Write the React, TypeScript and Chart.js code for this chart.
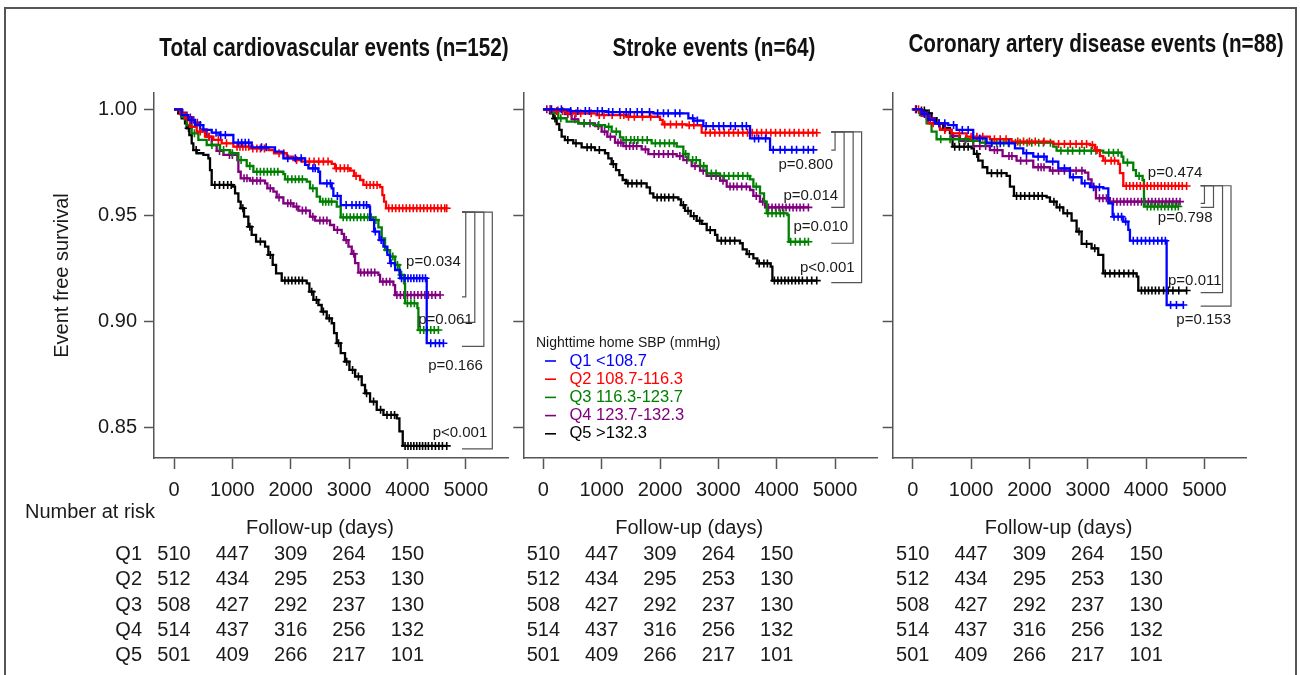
import React, { useEffect, useRef } from "react";
import { Chart, registerables } from "chart.js";
Chart.register(...registerables);

const FONT = '"Liberation Sans", Arial, sans-serif';
const TEXT = "#1a1a1a";
const AXIS = "#555555";

// ---------- categories / labels ----------
const groupLabels = ["Q1 <108.7", "Q2 108.7-116.3", "Q3 116.3-123.7", "Q4 123.7-132.3", "Q5 >132.3"];
const groupColors = ["#0000ff", "#ff0000", "#008000", "#800080", "#000000"];
const riskNames = ["Q1", "Q2", "Q3", "Q4", "Q5"];
const panelTitles = [
  "Total cardiovascular events (n=152)",
  "Stroke events (n=64)",
  "Coronary artery disease events (n=88)",
];
const xTicks = [0, 1000, 2000, 3000, 4000, 5000];
const yTicks = [0.85, 0.9, 0.95, 1.0];
const legendTitle = "Nighttime home SBP (mmHg)";
const yTitle = "Event free survival";
const xTitle = "Follow-up (days)";
const riskTitle = "Number at risk";

// ---------- number at risk ----------
const riskTimes = [0, 1000, 2000, 3000, 4000];
const riskQ1 = [510, 447, 309, 264, 150];
const riskQ2 = [512, 434, 295, 253, 130];
const riskQ3 = [508, 427, 292, 237, 130];
const riskQ4 = [514, 437, 316, 256, 132];
const riskQ5 = [501, 409, 266, 217, 101];

// ---------- Panel 1: total cardiovascular events ----------
const cvStepsQ1 = [[131,.9973],[246,.9950],[360,.9926],[503,.9903],[646,.9890],[789,.9879],[1017,.9843],[1331,.9821],[1731,.9801],[1874,.9769],[2246,.9738],[2303,.9722],[2474,.9706],[2503,.9651],[2703,.9628],[2731,.9592],[2857,.9549],[3331,.9542],[3360,.9479],[3429,.9424],[3520,.9384],[3589,.9353],[3657,.9314],[3703,.9275],[3789,.9243],[3874,.9204],[4331,.8898]];
const cvStepsQ2 = [[103,.9978],[189,.9958],[274,.9918],[389,.9895],[531,.9871],[674,.9856],[817,.9840],[1017,.9824],[1303,.9816],[1617,.9808],[1714,.9793],[1931,.9777],[2046,.9761],[2189,.9754],[2703,.9743],[2760,.9722],[3017,.9711],[3086,.9686],[3189,.9667],[3246,.9644],[3531,.9633],[3571,.9596],[3600,.9565],[3634,.9534]];
const cvStepsQ3 = [[131,.9965],[217,.9926],[303,.9887],[417,.9856],[560,.9832],[789,.9808],[960,.9793],[1103,.9761],[1246,.9733],[1360,.9706],[1874,.9695],[1903,.9670],[2274,.9659],[2331,.9628],[2446,.9589],[2503,.9565],[2789,.9542],[2857,.9491],[3417,.9479],[3503,.9444],[3560,.9392],[3617,.9337],[3703,.9306],[3789,.9267],[3863,.9220],[3943,.9180],[3960,.9086],[4171,.9063],[4188,.8960]];
const cvStepsQ4 = [[103,.9984],[217,.9962],[331,.9937],[446,.9906],[560,.9871],[646,.9832],[731,.9804],[846,.9785],[1086,.9761],[1103,.9706],[1143,.9675],[1303,.9664],[1560,.9651],[1600,.9628],[1703,.9612],[1760,.9585],[1874,.9557],[2046,.9542],[2131,.9523],[2331,.9494],[2417,.9476],[2674,.9455],[2743,.9432],[2874,.9413],[2914,.9384],[2989,.9353],[3046,.9319],[3103,.9275],[3160,.9231],[3503,.9220],[3531,.9188],[3760,.9172],[3789,.9125]];
const cvStepsQ5 = [[74,.9981],[131,.9958],[189,.9934],[217,.9911],[263,.9879],[303,.9840],[331,.9808],[389,.9793],[503,.9785],[589,.9769],[617,.9714],[646,.9644],[1006,.9636],[1046,.9604],[1103,.9565],[1143,.9534],[1200,.9494],[1274,.9447],[1331,.9408],[1406,.9377],[1560,.9353],[1617,.9314],[1691,.9267],[1749,.9227],[1846,.9193],[2274,.9180],[2320,.9141],[2389,.9102],[2474,.9078],[2531,.9047],[2617,.9015],[2703,.8992],[2743,.8945],[2789,.8898],[2857,.8851],[2931,.8811],[3006,.8772],[3103,.8741],[3217,.8701],[3274,.8662],[3360,.8623],[3474,.8584],[3589,.8560],[3817,.8544],[3863,.8482],[3920,.8414]];
const cvEnds = [4617, 4674, 4531, 4560, 4674];
const cvCensorQ1 = [300,450,720,800,880,1100,1160,1220,1280,1500,1580,1950,2080,2180,2380,2420,2620,2680,2800,2950,3050,3120,3180,3250,3300,3450,3550,3720,3900,3960,4010,4060,4110,4160,4210,4260,4310,4400,4480,4550,4617];
const cvCensorQ2 = [230,450,600,760,900,1080,1130,1180,1230,1280,1350,1420,1480,1550,1800,1880,2100,2250,2320,2400,2480,2560,2640,2780,2850,2920,2980,3120,3300,3360,3420,3480,3680,3740,3800,3860,3920,3980,4040,4100,4160,4220,4280,4340,4400,4460,4520,4580,4640,4674];
const cvCensorQ3 = [180,350,650,850,1000,1150,1300,1420,1480,1540,1600,1660,1720,1780,1950,2020,2080,2140,2200,2380,2550,2600,2650,2700,2900,2960,3020,3080,3140,3200,3260,3320,3380,3460,3650,3750,3830,3900,4000,4060,4120,4220,4280,4340,4400,4460,4531];
const cvCensorQ4 = [150,280,400,600,780,950,1000,1200,1250,1350,1420,1480,1650,1800,1950,2000,2100,2200,2260,2380,2500,2560,2620,2800,2950,3080,3200,3260,3320,3380,3440,3580,3640,3700,3820,3880,3940,4000,4060,4120,4180,4240,4300,4360,4420,4480,4560];
const cvCensorQ5 = [120,250,380,700,780,850,920,980,1180,1300,1480,1650,1900,1960,2020,2080,2140,2200,2360,2440,2560,2660,2820,2960,3060,3160,3300,3420,3540,3650,3720,3780,3960,4010,4060,4110,4160,4210,4260,4310,4360,4420,4480,4540,4600,4674];
const cvBracketTop = 0.9516;
const cvBracketBottoms = [0.9116, 0.8996, 0.8883, 0.84];
const cvPValues = ["p=0.034", "p=0.061", "p=0.166", "p<0.001"];

// ---------- Panel 2: stroke events ----------
const stStepsQ1 = [[457,.9992],[1086,.9987],[1886,.9981],[2486,.9958],[2571,.9947],[2743,.9921],[3543,.9863],[3886,.9809]];
const stStepsQ2 = [[171,.9992],[400,.9981],[914,.9973],[1428,.9965],[2000,.9950],[2046,.9929],[2457,.9925],[2714,.9890]];
const stStepsQ3 = [[143,.9984],[257,.9958],[400,.9942],[600,.9934],[857,.9926],[1057,.9918],[1171,.9895],[1314,.9868],[1371,.9855],[1857,.9840],[2286,.9824],[2400,.9790],[2486,.9761],[2686,.9733],[2800,.9698],[3029,.9686],[3543,.9670],[3600,.9636],[3714,.9604],[3783,.9565],[3829,.9510],[4183,.9502],[4206,.9376]];
const stStepsQ4 = [[171,.9994],[371,.9978],[486,.9953],[600,.9934],[886,.9921],[1000,.9895],[1097,.9871],[1229,.9843],[1371,.9827],[1686,.9811],[1800,.9789],[2286,.9780],[2400,.9761],[2543,.9733],[2686,.9711],[2800,.9686],[3029,.9664],[3143,.9636],[3543,.9620],[3600,.9592],[3714,.9565],[3800,.9538]];
const stStepsQ5 = [[114,.9981],[171,.9957],[229,.9931],[274,.9903],[314,.9871],[371,.9855],[514,.9840],[657,.9821],[886,.9808],[1057,.9793],[1114,.9769],[1171,.9742],[1246,.9714],[1303,.9690],[1360,.9667],[1417,.9651],[1771,.9632],[1828,.9604],[1886,.9585],[2314,.9576],[2360,.9549],[2429,.9522],[2526,.9497],[2628,.9475],[2714,.9460],[2800,.9431],[2943,.9408],[2983,.9381],[3371,.9369],[3417,.9340],[3486,.9318],[3600,.9298],[3668,.9274],[3897,.9259],[3926,.9193]];
const stEnds = [4629, 4686, 4543, 4543, 4686];
const stCensorQ1 = [140,310,470,590,720,790,930,1010,1120,1190,1310,1420,1490,1610,1690,1820,1960,2060,2140,2260,2340,2560,2640,2790,2910,3010,3090,3210,3290,3410,3480,3620,3690,3810,3940,4060,4140,4260,4340,4460,4540,4629];
const stCensorQ2 = [120,230,330,480,560,640,820,960,1040,1180,1320,1380,1460,1560,1700,1840,2080,2180,2280,2380,2500,2580,2780,2860,2940,3020,3100,3180,3260,3340,3420,3500,3580,3660,3740,3820,3900,3980,4060,4140,4220,4300,4380,4460,4540,4620,4686];
const stCensorQ3 = [300,700,950,1120,1250,1420,1500,1560,1620,1700,1780,1920,2000,2080,2160,2240,2440,2560,2620,2750,2880,2960,3100,3180,3260,3340,3420,3500,3650,3850,3920,3990,4060,4120,4240,4320,4400,4480,4543];
const stCensorQ4 = [60,120,250,420,540,700,800,940,1050,1150,1280,1330,1420,1480,1540,1600,1750,1900,1980,2060,2140,2220,2340,2460,2600,2740,2880,2960,3080,3200,3260,3320,3400,3480,3650,3760,3860,3920,3980,4040,4100,4160,4220,4280,4340,4400,4460,4543];
const stCensorQ5 = [200,420,560,750,820,960,1200,1450,1520,1600,1680,1950,2020,2080,2150,2230,2400,2480,2580,2680,2860,3050,3120,3200,3280,3530,3700,3780,3840,3960,4020,4080,4140,4200,4260,4320,4380,4440,4520,4600,4686];
const stBracketTop = 0.9894;
const stBracketBottoms = [0.9808, 0.9538, 0.9369, 0.9183];
const stPValues = ["p=0.800", "p=0.014", "p=0.010", "p<0.001"];

// ---------- Panel 3: coronary artery disease events ----------
const cadStepsQ1 = [[152,.9978],[266,.9950],[380,.9934],[609,.9926],[752,.9903],[1037,.9863],[1266,.9840],[1752,.9816],[1895,.9793],[2066,.9777],[2295,.9754],[2495,.9722],[2695,.9680],[2895,.9651],[3038,.9633],[3266,.9628],[3352,.9557],[3426,.9494],[3609,.9471],[3695,.9432],[3723,.9381],[4352,.9078]];
const cadStepsQ2 = [[152,.9969],[266,.9934],[466,.9903],[666,.9887],[923,.9871],[1323,.9859],[1695,.9848],[2409,.9837],[3038,.9832],[3123,.9808],[3209,.9780],[3266,.9758],[3523,.9743],[3552,.9699],[3609,.9639]];
const cadStepsQ3 = [[123,.9973],[238,.9934],[323,.9895],[409,.9859],[980,.9852],[1152,.9843],[2409,.9824],[2466,.9805],[3266,.9796],[3580,.9777],[3609,.9749],[3780,.9714],[3826,.9686],[3940,.9667],[3963,.9542]];
const cadStepsQ4 = [[112,.9984],[238,.9958],[380,.9934],[552,.9903],[666,.9874],[809,.9852],[1037,.9827],[1323,.9808],[1540,.9780],[1780,.9758],[2066,.9727],[2352,.9711],[2952,.9702],[3009,.9670],[3066,.9636],[3140,.9581],[3380,.9565]];
const cadStepsQ5 = [[123,.9994],[238,.9981],[323,.9958],[409,.9934],[523,.9911],[638,.9887],[683,.9824],[1009,.9816],[1049,.9790],[1123,.9758],[1198,.9727],[1278,.9699],[1609,.9686],[1666,.9636],[1735,.9592],[2295,.9585],[2352,.9565],[2466,.9538],[2581,.9510],[2723,.9476],[2809,.9424],[2895,.9366],[3066,.9345],[3180,.9314],[3266,.9227],[3838,.9212],[3866,.9146]];
const cadEnds = [4638, 4694, 4552, 4581, 4694];
const cadCensorQ1 = [200,450,550,700,850,950,1150,1350,1500,1650,1950,2150,2250,2400,2600,2750,2950,3100,3200,3450,3520,3580,3650,3780,3850,3920,3990,4060,4130,4200,4270,4330,4420,4520,4638];
const cadCensorQ2 = [100,350,550,800,1000,1100,1200,1400,1500,1600,1800,1900,2000,2100,2250,2500,2600,2700,2800,2900,2980,3080,3160,3300,3400,3460,3660,3720,3780,3840,3900,3960,4020,4080,4140,4200,4260,4320,4380,4440,4500,4560,4620,4694];
const cadCensorQ3 = [480,640,790,910,1040,1240,1360,1440,1560,1640,1760,1840,1960,2040,2160,2240,2360,2540,2660,2740,2860,2940,3060,3140,3360,3440,3520,3680,3880,4020,4080,4140,4200,4260,4320,4380,4440,4500,4552];
const cadCensorQ4 = [50,300,450,700,900,1150,1250,1400,1450,1650,1700,1850,1950,2150,2200,2250,2400,2500,2600,2700,2800,2900,3100,3200,3260,3320,3440,3500,3560,3620,3680,3740,3800,3860,3920,3980,4040,4100,4160,4220,4280,4340,4400,4460,4520,4581];
const cadCensorQ5 = [60,150,200,280,450,560,720,800,880,950,1100,1350,1450,1520,1780,1850,1920,2000,2080,2150,2220,2420,2520,2650,2850,2980,3120,3300,3380,3460,3540,3620,3700,3780,3920,3980,4040,4100,4160,4220,4300,4380,4460,4560,4694];
const cadBracketTop = 0.964;
const cadBracketBottoms = [0.9557, 0.9538, 0.9136, 0.9073];
const cadPValues = ["p=0.474", "p=0.798", "p=0.011", "p=0.153"];

// bracket geometry in days
const bracketStartDay = 4935;
const bracketDays = [5000, 5155, 5310, 5455];

// ---------- layout (pixels) ----------
const PAGE_W = 1300;
const PAGE_H = 675;
const Y_W = 114;
const X_H = 50;
const PLOT_TOP = 93;
const PLOT_BOTTOM = 458;
const PLOT_W = 354;
const yAxisX = [154, 523.3, 892.7];
const titleCenterX = [334, 714, 1096];
const titleBaseline = [56, 56, 52];
const pLabelOffsets = [
  [[-5, -34.6], [-2, -2.7], [-1, 19.3], [-5, -16]],
  [[-2, 15], [-6, -11.3], [-5, -16.6], [-7, -14.4]],
  [[-2, -30], [-1, 10.4], [-1, -12], [0, 14]],
];

const panels = [
  {
    steps: [cvStepsQ1, cvStepsQ2, cvStepsQ3, cvStepsQ4, cvStepsQ5],
    ends: cvEnds,
    censors: [cvCensorQ1, cvCensorQ2, cvCensorQ3, cvCensorQ4, cvCensorQ5],
    bracketTop: cvBracketTop,
    bracketBottoms: cvBracketBottoms,
    pValues: cvPValues,
  },
  {
    steps: [stStepsQ1, stStepsQ2, stStepsQ3, stStepsQ4, stStepsQ5],
    ends: stEnds,
    censors: [stCensorQ1, stCensorQ2, stCensorQ3, stCensorQ4, stCensorQ5],
    bracketTop: stBracketTop,
    bracketBottoms: stBracketBottoms,
    pValues: stPValues,
  },
  {
    steps: [cadStepsQ1, cadStepsQ2, cadStepsQ3, cadStepsQ4, cadStepsQ5],
    ends: cadEnds,
    censors: [cadCensorQ1, cadCensorQ2, cadCensorQ3, cadCensorQ4, cadCensorQ5],
    bracketTop: cadBracketTop,
    bracketBottoms: cadBracketBottoms,
    pValues: cadPValues,
  },
];

const riskRows = [riskQ1, riskQ2, riskQ3, riskQ4, riskQ5];

function survAt(steps: number[][], t: number) {
  let s = 1;
  for (const [ti, si] of steps) {
    if (ti <= t) s = si;
    else break;
  }
  return s;
}

const decorPlugin = {
  id: "kmDecor",
  afterDraw(chart: any, _args: any, opts: any) {
    const ctx = chart.ctx as CanvasRenderingContext2D;
    const xs = chart.scales.x;
    const ys = chart.scales.y;
    const i = opts.index as number;
    const panel = panels[i];
    ctx.save();

    // title (condensed bold)
    ctx.fillStyle = "#111";
    ctx.font = `bold 26.5px ${FONT}`;
    ctx.textAlign = "center";
    ctx.textBaseline = "alphabetic";
    ctx.save();
    ctx.translate(titleCenterX[i], titleBaseline[i]);
    ctx.scale(0.78, 1);
    ctx.fillText(panelTitles[i], 0, 0);
    ctx.restore();

    // brackets
    ctx.strokeStyle = "#555";
    ctx.lineWidth = 1.2;
    const x0 = xs.getPixelForValue(bracketStartDay);
    const yTop = ys.getPixelForValue(panel.bracketTop);
    panel.bracketBottoms.forEach((b: number, k: number) => {
      const vx = xs.getPixelForValue(bracketDays[k]);
      const yb = ys.getPixelForValue(b);
      ctx.beginPath();
      ctx.moveTo(x0, yTop);
      ctx.lineTo(vx, yTop);
      ctx.lineTo(vx, yb);
      ctx.lineTo(x0, yb);
      ctx.stroke();
    });
    ctx.fillStyle = TEXT;
    ctx.font = `15px ${FONT}`;
    ctx.textAlign = "right";
    ctx.textBaseline = "middle";
    panel.pValues.forEach((p: string, k: number) => {
      const vx = xs.getPixelForValue(bracketDays[k]);
      const yb = ys.getPixelForValue(panel.bracketBottoms[k]);
      const [dx, dy] = pLabelOffsets[i][k];
      ctx.fillText(p, vx + dx, yb + dy);
    });

    // x axis title
    ctx.font = `20px ${FONT}`;
    ctx.textAlign = "center";
    ctx.fillText(xTitle, xs.getPixelForValue(2500), 528.5);

    // number at risk
    riskRows.forEach((row, r) => {
      const y = 554.5 + 25.3 * r;
      row.forEach((v, j) => {
        ctx.textAlign = "center";
        ctx.fillText(String(v), xs.getPixelForValue(riskTimes[j]), y);
      });
      if (i === 0) {
        ctx.textAlign = "right";
        ctx.fillText(riskNames[r], 142, y);
      }
    });
    if (i === 0) {
      ctx.textAlign = "left";
      ctx.fillText(riskTitle, 25, 512);
    }

    // legend inside the stroke panel
    if (opts.legend) {
      ctx.textAlign = "left";
      ctx.fillStyle = TEXT;
      ctx.font = `14px ${FONT}`;
      ctx.fillText(legendTitle, 536, 343.5);
      ctx.font = `16.5px ${FONT}`;
      const curves = chart.data.datasets.filter((d: any) => d.kind === "curve");
      curves.forEach((d: any, k: number) => {
        const y = 361 + 18.2 * k;
        ctx.strokeStyle = d.borderColor;
        ctx.lineWidth = 1.6;
        ctx.beginPath();
        ctx.moveTo(545, y);
        ctx.lineTo(556, y);
        ctx.stroke();
        ctx.fillStyle = d.borderColor;
        ctx.fillText(d.label, 569.5, y);
      });
    }
    ctx.restore();
  },
};

function makeConfig(i: number): any {
  const panel = panels[i];
  const datasets: any[] = [];
  for (let g = 0; g < 5; g++) {
    const steps = panel.steps[g];
    const last = steps[steps.length - 1][1];
    datasets.push({
      type: "line",
      kind: "curve",
      label: groupLabels[g],
      data: [{ x: 0, y: 1 }, ...steps.map(([t, s]) => ({ x: t, y: s })), { x: panel.ends[g], y: last }],
      borderColor: groupColors[g],
      backgroundColor: groupColors[g],
      borderWidth: 2.3,
      stepped: "before",
      pointRadius: 0,
      fill: false,
    });
    datasets.push({
      type: "line",
      kind: "censor",
      label: groupLabels[g] + " censored",
      data: panel.censors[g].map((t: number) => ({ x: t, y: survAt(steps, t) })),
      showLine: false,
      pointStyle: "cross",
      pointRadius: 4,
      pointBorderWidth: 1.6,
      pointBorderColor: groupColors[g],
      borderColor: groupColors[g],
    });
  }
  const left = yAxisX[i];
  return {
    type: "line",
    data: { datasets },
    options: {
      animation: false,
      responsive: false,
      devicePixelRatio: 1,
      events: [],
      layout: {
        padding: {
          left: left - Y_W,
          right: PAGE_W - (left + PLOT_W),
          top: PLOT_TOP,
          bottom: PAGE_H - PLOT_BOTTOM - X_H,
        },
      },
      plugins: {
        legend: { display: false },
        tooltip: { enabled: false },
        title: { display: false },
        kmDecor: { index: i, legend: i === 1 },
      },
      scales: {
        x: {
          type: "linear",
          min: -343,
          max: 5724,
          afterBuildTicks: (s: any) => {
            s.ticks = xTicks.map((v) => ({ value: v }));
          },
          afterFit: (s: any) => {
            s.height = X_H;
          },
          border: { display: true, color: AXIS, width: 1.5 },
          grid: { drawOnChartArea: false, drawTicks: true, tickLength: 11, tickColor: AXIS, tickWidth: 1.5 },
          ticks: {
            font: { family: FONT, size: 20 },
            color: TEXT,
            padding: 9,
            maxRotation: 0,
            autoSkip: false,
            callback: (v: any) => String(v),
          },
        },
        y: {
          type: "linear",
          min: 0.8357,
          max: 1.0077,
          afterBuildTicks: (s: any) => {
            s.ticks = yTicks.map((v) => ({ value: v }));
          },
          afterFit: (s: any) => {
            s.width = Y_W;
          },
          border: { display: true, color: AXIS, width: 1.5 },
          grid: { drawOnChartArea: false, drawTicks: true, tickLength: 10, tickColor: AXIS, tickWidth: 1.5 },
          ticks: {
            font: { family: FONT, size: 20 },
            color: i === 0 ? TEXT : "rgba(0,0,0,0)",
            padding: 7,
            autoSkip: false,
            callback: (v: any) => Number(v).toFixed(2),
          },
          title: {
            display: i === 0,
            text: yTitle,
            font: { family: FONT, size: 20 },
            color: TEXT,
            padding: { top: 10, bottom: 0 },
          },
        },
      },
    },
    plugins: [decorPlugin],
  };
}

function Panel({ index }: { index: number }) {
  const ref = useRef<HTMLCanvasElement | null>(null);
  useEffect(() => {
    if (!ref.current) return;
    const chart = new Chart(ref.current, makeConfig(index));
    return () => chart.destroy();
  }, [index]);
  return (
    <canvas
      ref={ref}
      width={PAGE_W}
      height={PAGE_H}
      style={{ position: "absolute", left: 0, top: 0, width: PAGE_W, height: PAGE_H }}
    />
  );
}

export default function App() {
  return (
    <div
      style={{
        position: "absolute",
        left: 0,
        top: 0,
        width: PAGE_W,
        height: PAGE_H,
        overflow: "hidden",
        background: "#fff",
      }}
    >
      <div
        style={{
          position: "absolute",
          left: 4,
          top: 7,
          width: 1289,
          height: 720,
          borderLeft: "2px solid #555",
          borderTop: "2px solid #555",
          borderRight: "2px solid #555",
        }}
      />
      <Panel index={0} />
      <Panel index={1} />
      <Panel index={2} />
    </div>
  );
}
